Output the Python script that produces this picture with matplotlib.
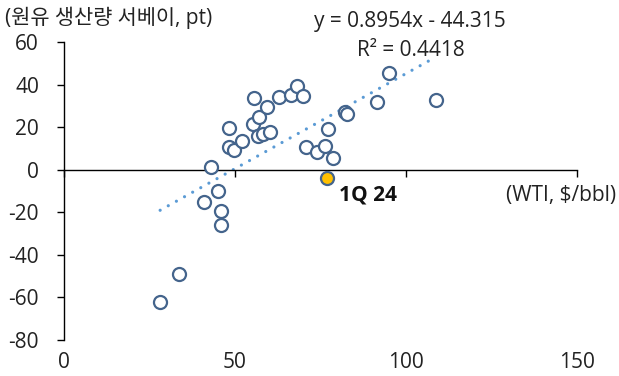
import numpy as np
import matplotlib.pyplot as plt

plt.rcParams['font.family'] = ['Open Sans', 'Noto Sans CJK KR', 'DejaVu Sans']
plt.rcParams['axes.unicode_minus'] = False

# WTI ($/bbl) vs oil production survey index (pt)
wti = [28.1, 33.7, 41.0, 42.9, 45.1, 45.8, 46.0, 48.3, 48.3, 49.7,
       52.0, 55.6, 55.1, 57.1, 59.4, 56.8, 58.3, 60.2, 62.9, 66.3,
       68.2, 69.8, 70.7, 73.9, 76.3, 77.3, 78.7, 82.2, 82.8, 91.4,
       95.1, 108.6]
survey = [-62.5, -49.2, -15.1, 1.3, -10.1, -19.5, -26.1, 19.4, 10.4, 9.2,
          13.4, 33.8, 21.4, 24.8, 29.3, 15.8, 16.6, 17.8, 34.3, 35.1,
          39.4, 34.7, 10.7, 8.1, 11.1, 19.2, 5.3, 27.2, 26.1, 31.9,
          45.3, 32.7]

latest_label = '1Q 24'
latest_wti = 76.8
latest_survey = -4.2

slope = 0.8954
intercept = -44.315
r2 = 0.4418

edge = '#44648C'
fs = 15

fig = plt.figure(figsize=(6.19, 3.76), dpi=100)
ax = fig.add_axes([0.1034, 0.097, 0.829, 0.791])

# linear trend over the data range
tx = np.array([min(wti), max(wti)])
ax.plot(tx, slope * tx + intercept, linestyle=(0, (0.01, 2.9)), dash_capstyle='round',
        color='#5B9BD5', linewidth=2.3, zorder=2)

ax.scatter(wti, survey, s=88, facecolor='white', edgecolor=edge, linewidths=1.6, zorder=3)
ax.scatter([latest_wti], [latest_survey], s=88, facecolor='#FFC000', edgecolor=edge,
           linewidths=1.6, zorder=4)

ax.set_xlim(0, 150)
ax.set_ylim(-80, 60)
ax.set_yticks(np.arange(-80, 61, 20))
ax.set_xticks([0, 50, 100, 150])

ax.spines['top'].set_visible(False)
ax.spines['right'].set_visible(False)
ax.spines['bottom'].set_position(('data', 0))
ax.spines['left'].set_linewidth(1.0)
ax.spines['bottom'].set_linewidth(1.0)

ax.tick_params(axis='y', direction='out', length=5, width=1, pad=13, labelsize=fs,
               labelcolor='#222222')
ax.tick_params(axis='x', direction='out', length=5, width=1, labelbottom=False)

# tick labels below the plot, spine crosses at zero
sec = ax.secondary_xaxis('bottom')
sec.set_xticks([0, 50, 100, 150])
sec.spines['bottom'].set_visible(False)
sec.tick_params(axis='x', length=0, pad=9, labelsize=fs, labelcolor='#222222')

fig.text(0.008, 0.953, '(원유 생산량 서베이, pt)', fontsize=fs, va='center', color='#222222')
fig.text(0.507, 0.944, f'y = {slope}x - {abs(intercept)}', fontsize=fs, va='center',
         color='#222222')
fig.text(0.577, 0.867, f'R² = {r2}', fontsize=fs, va='center', color='#222222')
ax.annotate(latest_label, xy=(latest_wti, latest_survey), xytext=(9, -12),
            textcoords='offset points', fontsize=fs, fontweight='bold', va='center',
            ha='left', color='#111111')
fig.text(0.817, 0.481, '(WTI, $/bbl)', fontsize=fs, va='center', color='#222222')

fig.savefig('out.png', dpi=100)
